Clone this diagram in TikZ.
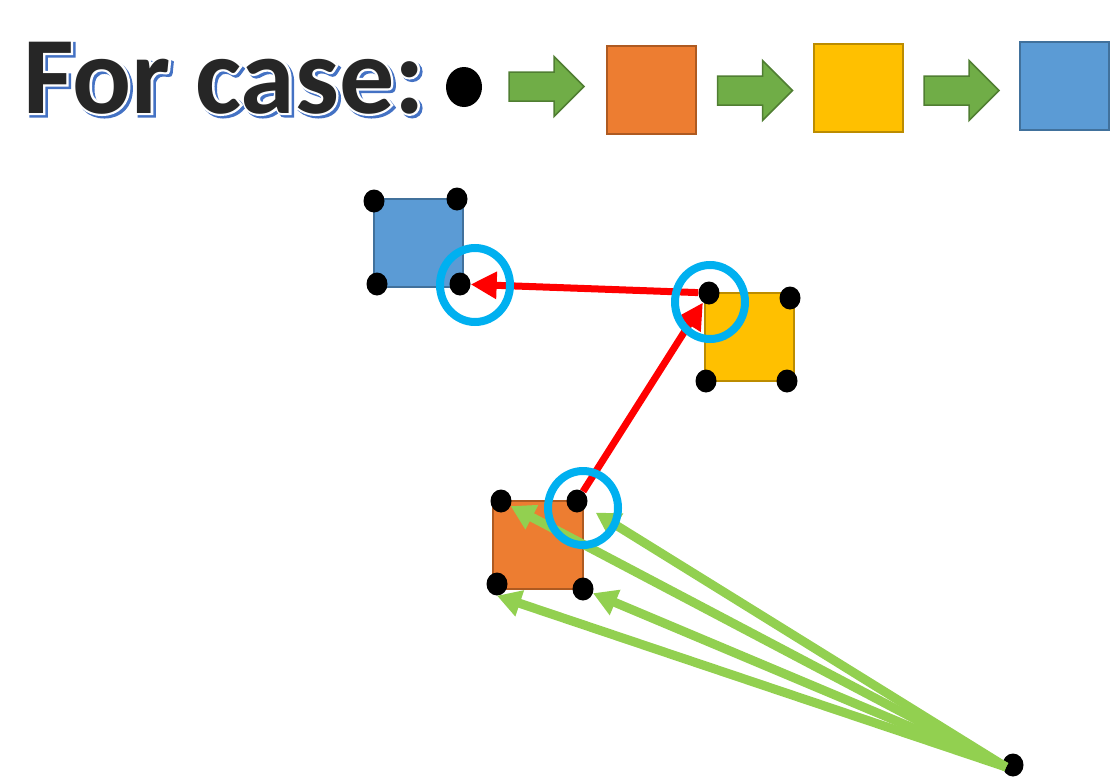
\documentclass[tikz,border=0pt]{standalone}
\usepackage{fontspec}
\newfontfamily\titlefont{Carlito}
\newfontfamily\titlefontW{Carlito}[UprightFeatures={FakeBold=4}, BoldFeatures={FakeBold=4}]
\usetikzlibrary{shapes.geometric,arrows.meta}
\definecolor{orangeF}{HTML}{ED7D31}
\definecolor{orangeD}{HTML}{AE5A21}
\definecolor{yellowF}{HTML}{FFC000}
\definecolor{yellowD}{HTML}{BC8C00}
\definecolor{blueF}{HTML}{5B9BD5}
\definecolor{blueD}{HTML}{41719C}
\definecolor{garrowF}{HTML}{70AD47}
\definecolor{garrowD}{HTML}{507E32}
\definecolor{lgreen}{HTML}{92D050}
\definecolor{cyanR}{HTML}{00B0F0}
\definecolor{titlegray}{HTML}{262626}
\definecolor{shadowblue}{HTML}{4472C4}
\newcommand\fancytitle[1]{%
  \makebox[0pt][l]{\hspace*{2.5pt}\raisebox{-2.5pt}{\titlefontW\bfseries\textcolor{shadowblue}{#1}}}%
  \makebox[0pt][l]{\titlefontW\bfseries\textcolor{white}{#1}}%
  \titlefont\bfseries\textcolor{titlegray}{#1}}
\begin{document}
\begin{tikzpicture}[x=1pt,y=-1pt,
  box/.style n args={2}{rectangle, fill=#1, draw=#2, line width=1.5pt, inner sep=0pt,
     minimum width=89pt, minimum height=88pt},
  dot/.style={ellipse, fill=black, inner sep=0pt, minimum width=21pt, minimum height=23pt},
  bigdot/.style={ellipse, fill=black, inner sep=0pt, minimum width=36pt, minimum height=40pt},
  ring/.style={ellipse, draw=cyanR, line width=8pt, inner sep=0pt, minimum width=70pt, minimum height=74pt},
  blockarrow/.pic={\draw[fill=garrowF, draw=garrowD, line width=1.5pt, line join=miter]
     (-37.5,-14.5) -- (7.5,-14.5) -- (7.5,-30) -- (37.5,0) -- (7.5,30) -- (7.5,14.5) -- (-37.5,14.5) -- cycle;},
  redarrow/.style={draw=red, line width=7pt, -{Triangle[length=26pt,width=26pt]}},
  greenarrow/.style={draw=lgreen, line width=9pt, -{Triangle[length=24pt,width=26pt]}}
]
\useasboundingbox (0,0) rectangle (1110,779);

% title row
\node[anchor=base west, inner sep=0pt] (title) at (23,113)
  {\fontsize{110}{110}\selectfont\fancytitle{For case:}};
\node[bigdot] (tdot) at (464,87) {};
\pic at (546.5,86.5) {blockarrow};
\node[box={orangeF}{orangeD}] (tsq1) at (651.5,90) {};
\pic at (755,90.5) {blockarrow};
\node[box={yellowF}{yellowD}] (tsq2) at (858.5,88) {};
\pic at (961.5,90.5) {blockarrow};
\node[box={blueF}{blueD}] (tsq3) at (1064.5,86) {};

% squares
\node[box={blueF}{blueD}] (bsq) at (418.5,243) {};
\node[box={yellowF}{yellowD}] (ysq) at (749.5,337) {};
\node[box={orangeF}{orangeD}, minimum width=90pt] (osq) at (538,545) {};

% corner dots
\node[dot] (bTL) at (374,201) {};
\node[dot] (bTR) at (457,199) {};
\node[dot] (bBL) at (377,284) {};
\node[dot] (bBR) at (460,284) {};
\node[dot] (yTL) at (709,293) {};
\node[dot] (yTR) at (790,298) {};
\node[dot] (yBL) at (706,381) {};
\node[dot] (yBR) at (787,381) {};
\node[dot] (oTL) at (501,501) {};
\node[dot] (oTR) at (577,501) {};
\node[dot] (oBL) at (497,584) {};
\node[dot] (oBR) at (583,589) {};
\node[dot] (sdot) at (1013,765) {};
\coordinate (src) at (1006,767);

% red connectors
\draw[redarrow] (yTL) -- (bBR);
\draw[redarrow] (oTR) -- (yTL);

% green connectors
\draw[greenarrow] (src) -- (oTL);
\draw[greenarrow, shorten >=11pt] (src) -- (oTR);
\draw[greenarrow] (src) -- (oBL.south);
\draw[greenarrow] (src) -- (oBR);

% rings
\node[ring] (r1) at (475,285) {};
\node[ring] (r2) at (710,302) {};
\node[ring] (r3) at (583,508) {};
\end{tikzpicture}
\end{document}
